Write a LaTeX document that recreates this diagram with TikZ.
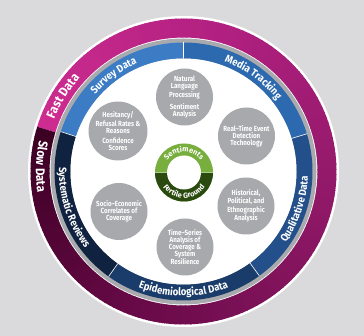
\documentclass[tikz,border=0pt]{standalone}
\usepackage{fontspec}
\setmainfont{Fira Sans}
\newfontfamily\condfont[FakeStretch=0.84]{Fira Sans}
\newfontfamily\ringfont[FakeStretch=0.9]{Fira Sans}
\usetikzlibrary{decorations.text}
\definecolor{bg}{HTML}{DADADC}
\definecolor{m0}{HTML}{CE2C90}
\definecolor{m1}{HTML}{B02080}
\definecolor{m2}{HTML}{8E1866}
\definecolor{m3}{HTML}{690A48}
\definecolor{m4}{HTML}{3A0022}
\definecolor{ringgray}{HTML}{A9AAAD}
\definecolor{bubgray}{HTML}{A7A9AC}
\definecolor{survey}{HTML}{3B7CC4}
\definecolor{media}{HTML}{2D69AE}
\definecolor{qual}{HTML}{23508A}
\definecolor{epid}{HTML}{1A3C6A}
\definecolor{syst}{HTML}{0F2340}
\definecolor{glight}{HTML}{77AE3E}
\definecolor{gdark}{HTML}{2B4A0F}
\newcommand\annsec[5]{\fill[#1] (#2:#4) arc[start angle=#2,end angle=#3,radius=#4] -- (#3:#5) arc[start angle=#3,end angle=#2,radius=#5] -- cycle;}
\newcommand\outerfmt{\ringfont\fontsize{12.8}{13}\selectfont\bfseries\color{white}}
\newcommand\bluefmt{\ringfont\fontsize{10.6}{11}\selectfont\bfseries\color{white}}
\newcommand\greenfmt{\fontsize{7.5}{7.5}\selectfont\bfseries\color{white}}
\tikzset{
  bub/.style={circle, fill=bubgray, minimum size=57pt, inner sep=0pt, align=center, text=white,
    font=\condfont\bfseries\fontsize{7.4}{7}\selectfont},
  sep/.style={white, line width=0.6pt}
}
\begin{document}
\begin{tikzpicture}[x=1pt,y=1pt]
\useasboundingbox (0,0) rectangle (364,336);
\fill[bg] (0,0) rectangle (364,336);
\begin{scope}[shift={(183.5,164.5)}]
\fill[white] (0,0) circle[radius=155.5pt];
% outer gradient ring
\foreach \ca/\cb [count=\s from 0] in {m0/m1,m1/m2,m2/m3,m3/m4}{
  \foreach \i in {0,...,44}{
    \pgfmathsetmacro\a{163-90*\s-2*\i}
    \pgfmathsetmacro\b{max(\a-2.4,-197)}
    \pgfmathtruncatemacro\p{100-100*\i/45}
    \fill[\ca!\p!\cb] (\a:153pt) arc[start angle=\a,end angle=\b,radius=153pt] -- (\b:134pt) arc[start angle=\b,end angle=\a,radius=134pt] -- cycle;
  }
}
\fill[ringgray] (0,0) circle[radius=133pt];
% blue segments
\annsec{survey}{162}{90}{129pt}{113pt}
\annsec{media}{90}{17}{129pt}{113pt}
\annsec{qual}{17}{-54}{129pt}{113pt}
\annsec{epid}{-54}{-125.5}{129pt}{113pt}
\annsec{syst}{-125.5}{-198}{129pt}{113pt}
\foreach \ang in {162,90,17,-54,-125.5}{\draw[sep] (\ang:113pt) -- (\ang:129pt);}
\fill[white] (0,0) circle[radius=113pt];
% ring labels
\path[decorate,decoration={text along path,text align=center,text={|\outerfmt|Fast Data}}] (188:139.5pt) arc[start angle=188,end angle=108,radius=139.5pt];
\path[decorate,decoration={text along path,text align=center,text={|\outerfmt|Slow Data}}] (138:147.5pt) arc[start angle=138,end angle=218,radius=147.5pt];
\path[decorate,decoration={text along path,text align=center,text={|\bluefmt|Survey Data}}] (166:117.5pt) arc[start angle=166,end angle=86,radius=117.5pt];
\path[decorate,decoration={text along path,text align=center,text={|\bluefmt|Media Tracking}}] (93.5:117.5pt) arc[start angle=93.5,end angle=13.5,radius=117.5pt];
\path[decorate,decoration={text along path,text align=center,text={|\bluefmt|Qualitative Data}}] (-58.5:124.5pt) arc[start angle=-58.5,end angle=21.5,radius=124.5pt];
\path[decorate,decoration={text along path,text align=center,text={|\bluefmt|Epidemiological Data}}] (-145:124.5pt) arc[start angle=-145,end angle=-35,radius=124.5pt];
\path[decorate,decoration={text along path,text align=center,text={|\bluefmt|Systematic Reviews}}] (148:124.5pt) arc[start angle=148,end angle=248,radius=124.5pt];
% bubbles
\node[bub] (nlp) at (1,74.5) {Natural\\Language\\Processing\\[3pt]Sentiment\\Analysis};
\node[bub] (hes) at (-65.5,40.5) {Hesitancy/\\Refusal Rates \&\\Reasons\\[3pt]Confidence\\Scores};
\node[bub] (rte) at (63,35.5) {Real–Time Event\\Detection\\Technology};
\node[bub] (soc) at (-64.5,-40) {Socio–Economic\\Correlates of\\Coverage};
\node[bub] (his) at (62.5,-34.5) {Historical,\\Political, and\\Ethnographic\\Analysis};
\node[bub] (tsa) at (1.5,-75.5) {Time–Series\\Analysis of\\Coverage \&\\System\\Resilience};
% center donut
\begin{scope}[shift={(0.5,-1)}]
\fill[glight] (0,0) circle[radius=29pt];
\fill[gdark] (-29,0) arc[start angle=180,end angle=360,radius=29pt] -- cycle;
\draw[glight!60!white, line width=0.5pt] (-29,0) -- (29,0);
\fill[white] (0,0) circle[radius=17pt];
\path[decorate,decoration={text along path,text align=center,text={|\greenfmt|Sentiments}}] (170:20.5pt) arc[start angle=170,end angle=10,radius=20.5pt];
\path[decorate,decoration={text along path,text align=center,text={|\greenfmt|Fertile Ground}}] (190:25.5pt) arc[start angle=190,end angle=350,radius=25.5pt];
\end{scope}
\end{scope}
\end{tikzpicture}
\end{document}
